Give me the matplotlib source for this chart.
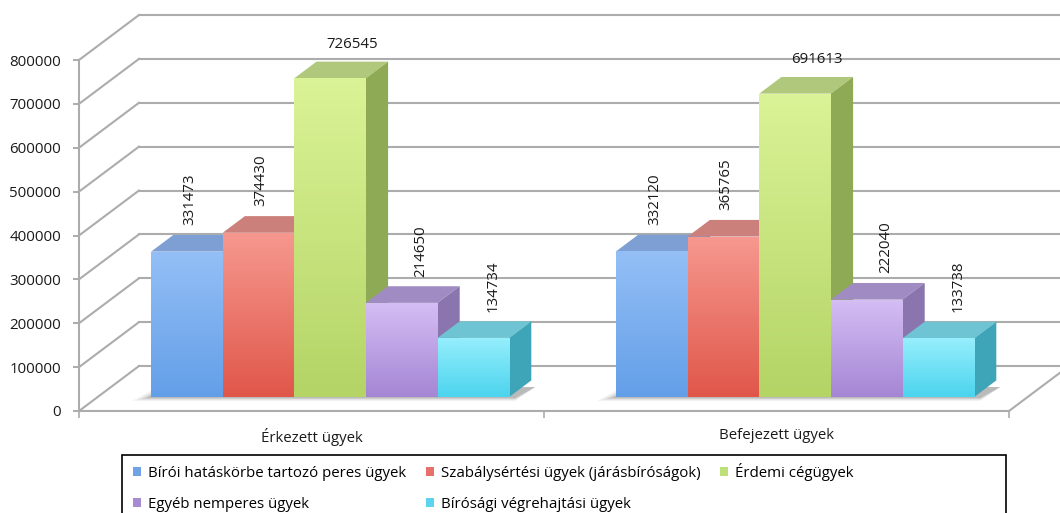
import numpy as np
import matplotlib
matplotlib.use("Agg")
import matplotlib.pyplot as plt
from matplotlib.patches import Polygon, Patch, Rectangle
from matplotlib.colors import LinearSegmentedColormap

plt.rcParams["font.family"] = ["Open Sans", "DejaVu Sans"]

# adatok
kategoriak = ["Érkezett ügyek", "Befejezett ügyek"]
sorozat_nevek = [
    "Bírói hatáskörbe tartozó peres ügyek",
    "Szabálysértési ügyek (járásbíróságok)",
    "Érdemi cégügyek",
    "Egyéb nemperes ügyek",
    "Bírósági végrehajtási ügyek",
]
biroi = [331473, 332120]
szabalysertesi = [374430, 365765]
cegugyek = [726545, 691613]
nemperes = [214650, 222040]
vegrehajtas = [134734, 133738]
y_tickek = [0, 100000, 200000, 300000, 400000, 500000, 600000, 700000, 800000]

sorozatok = [biroi, szabalysertesi, cegugyek, nemperes, vegrehajtas]

# színek: előlap teteje, előlap alja, tetőlap, oldallap, jelmagyarázat
szinek = [
    ("#94bff6", "#639fe8", "#7e9fd4", "#5080c0", "#6fa3e6"),
    ("#f6988f", "#e0574a", "#cc807c", "#b84c42", "#e8706a"),
    ("#daf396", "#b4d466", "#b0c87c", "#8eaa55", "#bde07a"),
    ("#d4bef4", "#a586d4", "#a08cc2", "#8a75ae", "#a58bd0"),
    ("#96eefc", "#4cd4ee", "#6ec4d2", "#3ea4b8", "#5cd4ee"),
]
FS = 10.8

W, H = 1060, 513
fig = plt.figure(figsize=(W / 100, H / 100), dpi=100)
ax = fig.add_axes([79 / W, (H - 411) / H, (1009 - 79) / W, (411 - 60) / H])
ax.set_xlim(-0.5, 1.5)
ax.set_ylim(0, 800000)

px_x = 2 / 930            # adat / pixel vízszintesen
px_y = 800000 / 351       # adat / pixel függőlegesen
DX, DY = 60 * px_x, 45 * px_y      # mélységi vektor (elől -> hátsó fal)
d0, dd = 0.31, 0.37                # oszlopok mélységi helye és vastagsága
bw = 71.6 * px_x

racs = "#acacac"
# hátsó fal rácsvonalai és a bal oldali fal átlói
for v in y_tickek:
    ax.plot([-0.5 + DX, 1.5 + DX + 0.2], [v + DY, v + DY], color=racs, lw=1.5,
            clip_on=False, zorder=0)
    ax.plot([-0.5, -0.5 + DX], [v, v + DY], color=racs, lw=1.5, clip_on=False, zorder=0)
ax.plot([1.5, 1.5 + DX], [0, DY], color=racs, lw=1.5, clip_on=False, zorder=0)

bx, by = d0 * DX, d0 * DY
ox, oy = dd * DX, dd * DY

# lágy árnyék a padlón (balra-lefelé)
for c in range(len(kategoriak)):
    x0 = c + bx - 2.5 * bw
    x1 = c + bx + 2.5 * bw
    for k, a in enumerate([0.05, 0.07, 0.10, 0.12]):
        s = (4 - k) * 4
        pts = [(x0 - s * px_x * 1.2, by - s * px_y * 0.25), (x1 + 6 * px_x, by - s * px_y * 0.25),
               (x1 + ox + 4 * px_x, by + oy * 0.6), (x0 + ox - s * px_x, by + oy * 0.6)]
        ax.add_patch(Polygon(pts, closed=True, facecolor="#202020", edgecolor="none",
                             alpha=a, clip_on=False, zorder=1))

z = 2
for c in range(len(kategoriak)):
    for i, ser in enumerate(sorozatok):
        v = ser[c]
        xc = c + bx + (i - 2) * bw
        x0, x1 = xc - bw / 2, xc + bw / 2
        ftop, fbot, ctop, cside, _ = szinek[i]
        rect = ax.bar(xc, v, width=bw, bottom=by, color=fbot, zorder=z + 0.5,
                      clip_on=False)[0]
        cmap = LinearSegmentedColormap.from_list("g", [fbot, ftop])
        grad = np.linspace(0, 1, 64).reshape(-1, 1)
        im = ax.imshow(grad, extent=[x0, x1, by, by + v], origin="lower", aspect="auto",
                       cmap=cmap, zorder=z + 0.6, interpolation="bilinear")
        im.set_clip_path(rect)
        top = by + v
        ax.add_patch(Polygon([(x0, top), (x1, top), (x1 + ox, top + oy), (x0 + ox, top + oy)],
                             closed=True, facecolor=ctop, edgecolor="none",
                             clip_on=False, zorder=z))
        ax.add_patch(Polygon([(x1, by), (x1 + ox, by + oy), (x1 + ox, top + oy), (x1, top)],
                             closed=True, facecolor=cside, edgecolor="none",
                             clip_on=False, zorder=z))
        # adatfelirat
        kovetkezo = sorozatok[i + 1][c] if i + 1 < len(sorozatok) else 0
        dx_pt = 14 if kovetkezo < v else 2
        hatso_teteje = top + oy
        if hatso_teteje + 60 * px_y > 850000:
            ax.annotate(str(v), xy=(xc, hatso_teteje), xytext=(dx_pt + 2, 7),
                        textcoords="offset points", ha="center", va="bottom",
                        fontsize=FS, color="#1a1a1a", zorder=20, annotation_clip=False)
        else:
            ax.annotate(str(v), xy=(xc, hatso_teteje), xytext=(dx_pt, 7),
                        textcoords="offset points", ha="center", va="bottom",
                        rotation=90, fontsize=FS, color="#1a1a1a", zorder=20,
                        annotation_clip=False)
        z += 1

ax.set_xlim(-0.5, 1.5)
ax.set_ylim(0, 800000)

for s in ["top", "right"]:
    ax.spines[s].set_visible(False)
for s in ["left", "bottom"]:
    ax.spines[s].set_color(racs)
    ax.spines[s].set_linewidth(1.5)

ax.set_yticks(y_tickek)
ax.set_yticklabels([str(t) for t in y_tickek])
ax.tick_params(axis="y", length=4, width=1.4, color=racs, pad=9, labelsize=FS,
               labelcolor="#1a1a1a")
ax.set_xticks([0, 1])
ax.set_xticklabels(kategoriak)
ax.set_xticks([-0.5, 0.5, 1.5], minor=True)
ax.tick_params(axis="x", which="major", length=0, pad=12, labelsize=FS,
               labelcolor="#1a1a1a")
ax.tick_params(axis="x", which="minor", length=5, width=1.2, color=racs)

# jelmagyarázat
fig.add_artist(Rectangle((122 / W, -0.02), (1006 - 122) / W, (H - 455) / H + 0.02,
                         transform=fig.transFigure, fill=False, edgecolor="black", lw=1.2))
kezelok = [Patch(facecolor=sz[4], edgecolor="none") for sz in szinek]
sorrend = [0, 3, 1, 4, 2]
fig.legend([kezelok[k] for k in sorrend], [sorozat_nevek[k] for k in sorrend],
           ncol=3, loc="upper left", bbox_to_anchor=(133 / W, 1 - 463 / H),
           frameon=False, borderpad=0, borderaxespad=0, fontsize=FS,
           handlelength=0.55, handleheight=0.55, handletextpad=0.45,
           columnspacing=1.3, labelspacing=1.05)

fig.savefig("out.png", dpi=100)
